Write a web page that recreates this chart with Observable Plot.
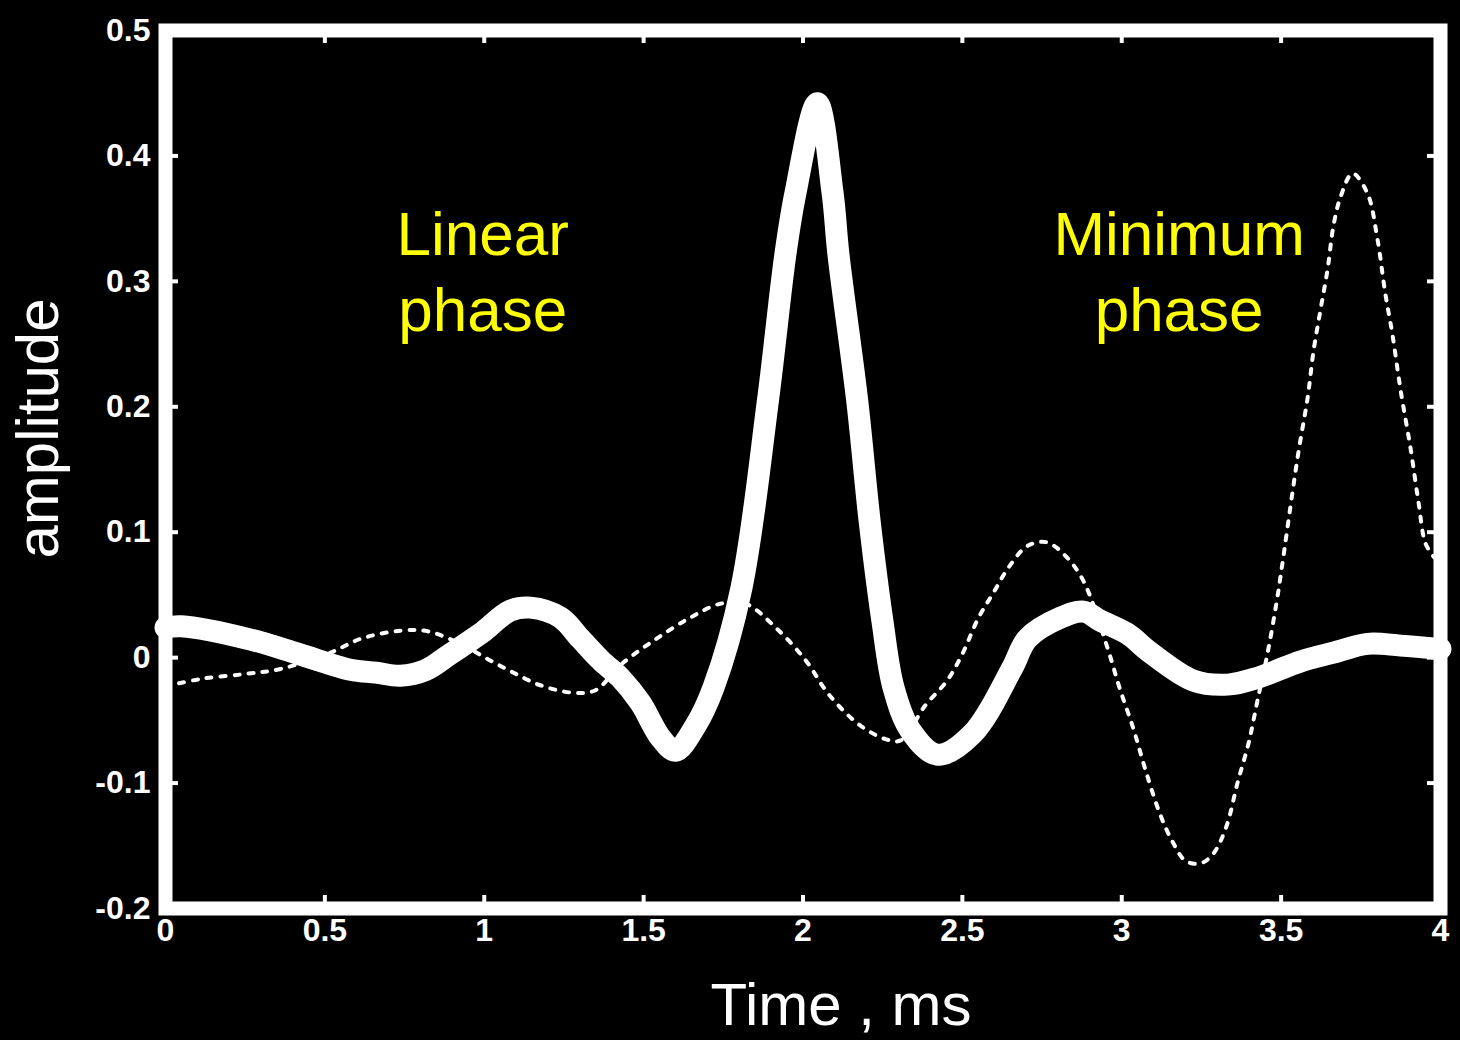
<!DOCTYPE html>
<html><head><meta charset="utf-8">
<script src="https://cdn.jsdelivr.net/npm/d3@7"></script>
<script src="https://cdn.jsdelivr.net/npm/@observablehq/plot@0.6"></script>
<style>html,body{margin:0;padding:0;background:#000;} #chart{width:1460px;height:1040px;}</style>
</head><body><div id="chart"></div>
<script>
const xTicks = [0, 0.5, 1, 1.5, 2, 2.5, 3, 3.5, 4];
const xTickLabels = ["0", "0.5", "1", "1.5", "2", "2.5", "3", "3.5", "4"];
const yTicks = [-0.2, -0.1, 0, 0.1, 0.2, 0.3, 0.4, 0.5];
const yTickLabels = ["-0.2", "-0.1", "0", "0.1", "0.2", "0.3", "0.4", "0.5"];

// Linear phase (thick line): time (ms) and amplitude
const linearT = [0, 0.05, 0.267, 0.424, 0.58, 0.66, 0.737, 0.816, 0.894, 0.988, 1.082, 1.145, 1.239, 1.302, 1.365, 1.427, 1.49, 1.553, 1.60, 1.663, 1.719, 1.807, 1.89, 1.945, 1.976, 2.045, 2.093, 2.111, 2.17, 2.209, 2.249, 2.284, 2.337, 2.422, 2.532, 2.657, 2.704, 2.808, 2.88, 2.933, 3.018, 3.09, 3.225, 3.332, 3.426, 3.561, 3.664, 3.771, 3.875, 4.0];
const linearA = [0.024, 0.025, 0.0144, 0.0024, -0.0096, -0.012, -0.0144, -0.010, 0.003, 0.0191, 0.0375, 0.0399, 0.032, 0.015, -0.002, -0.016, -0.036, -0.0638, -0.0742, -0.0542, -0.0239, 0.0558, 0.205, 0.322, 0.37, 0.442, 0.37, 0.322, 0.205, 0.109, 0.0295, -0.0239, -0.058, -0.0774, -0.0606, -0.008, 0.0152, 0.0319, 0.0367, 0.0295, 0.019, 0.004, -0.0183, -0.0215, -0.016, -0.003, 0.004, 0.011, 0.0096, 0.007];

// Minimum phase (dotted line): time (ms) and amplitude
const minT = [0, 0.110, 0.251, 0.361, 0.518, 0.612, 0.737, 0.822, 0.925, 1.01, 1.092, 1.176, 1.28, 1.349, 1.427, 1.531, 1.647, 1.741, 1.82, 1.914, 2.008, 2.08, 2.174, 2.259, 2.306, 2.384, 2.453, 2.5, 2.551, 2.598, 2.645, 2.704, 2.764, 2.824, 2.88, 2.955, 2.993, 3.037, 3.075, 3.122, 3.162, 3.2, 3.247, 3.288, 3.329, 3.363, 3.398, 3.426, 3.457, 3.485, 3.504, 3.529, 3.555, 3.583, 3.602, 3.624, 3.646, 3.664, 3.686, 3.724, 3.771, 3.802, 3.827, 3.849, 3.875, 3.906, 3.931, 3.953, 3.98];
const minA = [-0.023, -0.017, -0.013, -0.009, 0.004, 0.015, 0.0215, 0.021, 0.011, -0.001, -0.012, -0.022, -0.028, -0.026, -0.006, 0.0135, 0.032, 0.043, 0.043, 0.024, -0.002, -0.029, -0.053, -0.065, -0.066, -0.038, -0.018, 0.003, 0.032, 0.052, 0.072, 0.089, 0.092, 0.081, 0.061, 0.008, -0.024, -0.057, -0.09, -0.126, -0.148, -0.162, -0.164, -0.156, -0.134, -0.1, -0.068, -0.034, 0.003, 0.043, 0.075, 0.12, 0.165, 0.207, 0.245, 0.278, 0.31, 0.344, 0.367, 0.386, 0.37, 0.334, 0.29, 0.258, 0.213, 0.167, 0.124, 0.091, 0.08];

const annotLabels = ["Linear\nphase", "Minimum\nphase"];
const annotX = [0.995, 3.18];
const annotY = [0.31, 0.31];

const linear = linearT.map((t, i) => ({t, a: linearA[i]}));
const minimum = minT.map((t, i) => ({t, a: minA[i]}));
const annotations = annotLabels.map((text, i) => ({text, x: annotX[i], y: annotY[i]}));

const W = 1460, H = 1040, mL = 165, mR = 20, mT = 30, mB = 132;
const tickLenX = 13 * 4 / (W - mL - mR);     // 13px in data units
const tickLenY = 13 * 0.7 / (H - mT - mB);
const font = "'Liberation Sans', Arial, Helvetica, sans-serif";

const chart = Plot.plot({
  width: W, height: H,
  marginLeft: mL, marginRight: mR, marginTop: mT, marginBottom: mB,
  style: {background: "#000", color: "#fff", fontFamily: font},
  x: {domain: [0, 4]},
  y: {domain: [-0.2, 0.5]},
  marks: [
    Plot.line(minimum, {x: "t", y: "a", stroke: "#fff", strokeWidth: 4, strokeDasharray: "5,9", curve: "catmull-rom"}),
    Plot.line(linear, {x: "t", y: "a", stroke: "#fff", strokeWidth: 22, strokeLinejoin: "round", curve: "catmull-rom"}),
    Plot.text(annotations, {x: "x", y: "y", text: "text", fill: "#ffff00", fontSize: 62, fontFamily: font, lineHeight: 1.22, textAnchor: "middle"}),
    Plot.ruleX(xTicks, {x: d => d, y1: -0.2, y2: -0.2 + tickLenY, stroke: "#fff", strokeWidth: 4}),
    Plot.ruleX(xTicks, {x: d => d, y1: 0.5, y2: 0.5 - tickLenY, stroke: "#fff", strokeWidth: 4}),
    Plot.ruleY(yTicks, {y: d => d, x1: 0, x2: tickLenX, stroke: "#fff", strokeWidth: 4}),
    Plot.ruleY(yTicks, {y: d => d, x1: 4, x2: 4 - tickLenX, stroke: "#fff", strokeWidth: 4}),
    Plot.frame({stroke: "#fff", strokeWidth: 14}),
    Plot.axisX(xTicks, {tickSize: 0, tickPadding: 10, tickFormat: d => xTickLabels[xTicks.indexOf(d)], fontSize: 32, fontWeight: "bold", fill: "#fff", label: null}),
    Plot.axisY(yTicks, {tickSize: 0, tickPadding: 15, tickFormat: d => yTickLabels[yTicks.indexOf(d)], fontSize: 32, fontWeight: "bold", fill: "#fff", label: null}),
    Plot.text(["Time , ms"], {frameAnchor: "bottom", lineAnchor: "middle", textAnchor: "middle", dy: 97, dx: 38, fill: "#fff", fontSize: 60, fontFamily: font}),
    Plot.text(["amplitude"], {frameAnchor: "left", lineAnchor: "middle", textAnchor: "middle", dx: -127, dy: -41, rotate: -90, fill: "#fff", fontSize: 60, fontFamily: font})
  ]
});
document.getElementById("chart").appendChild(chart);
</script>
</body></html>
